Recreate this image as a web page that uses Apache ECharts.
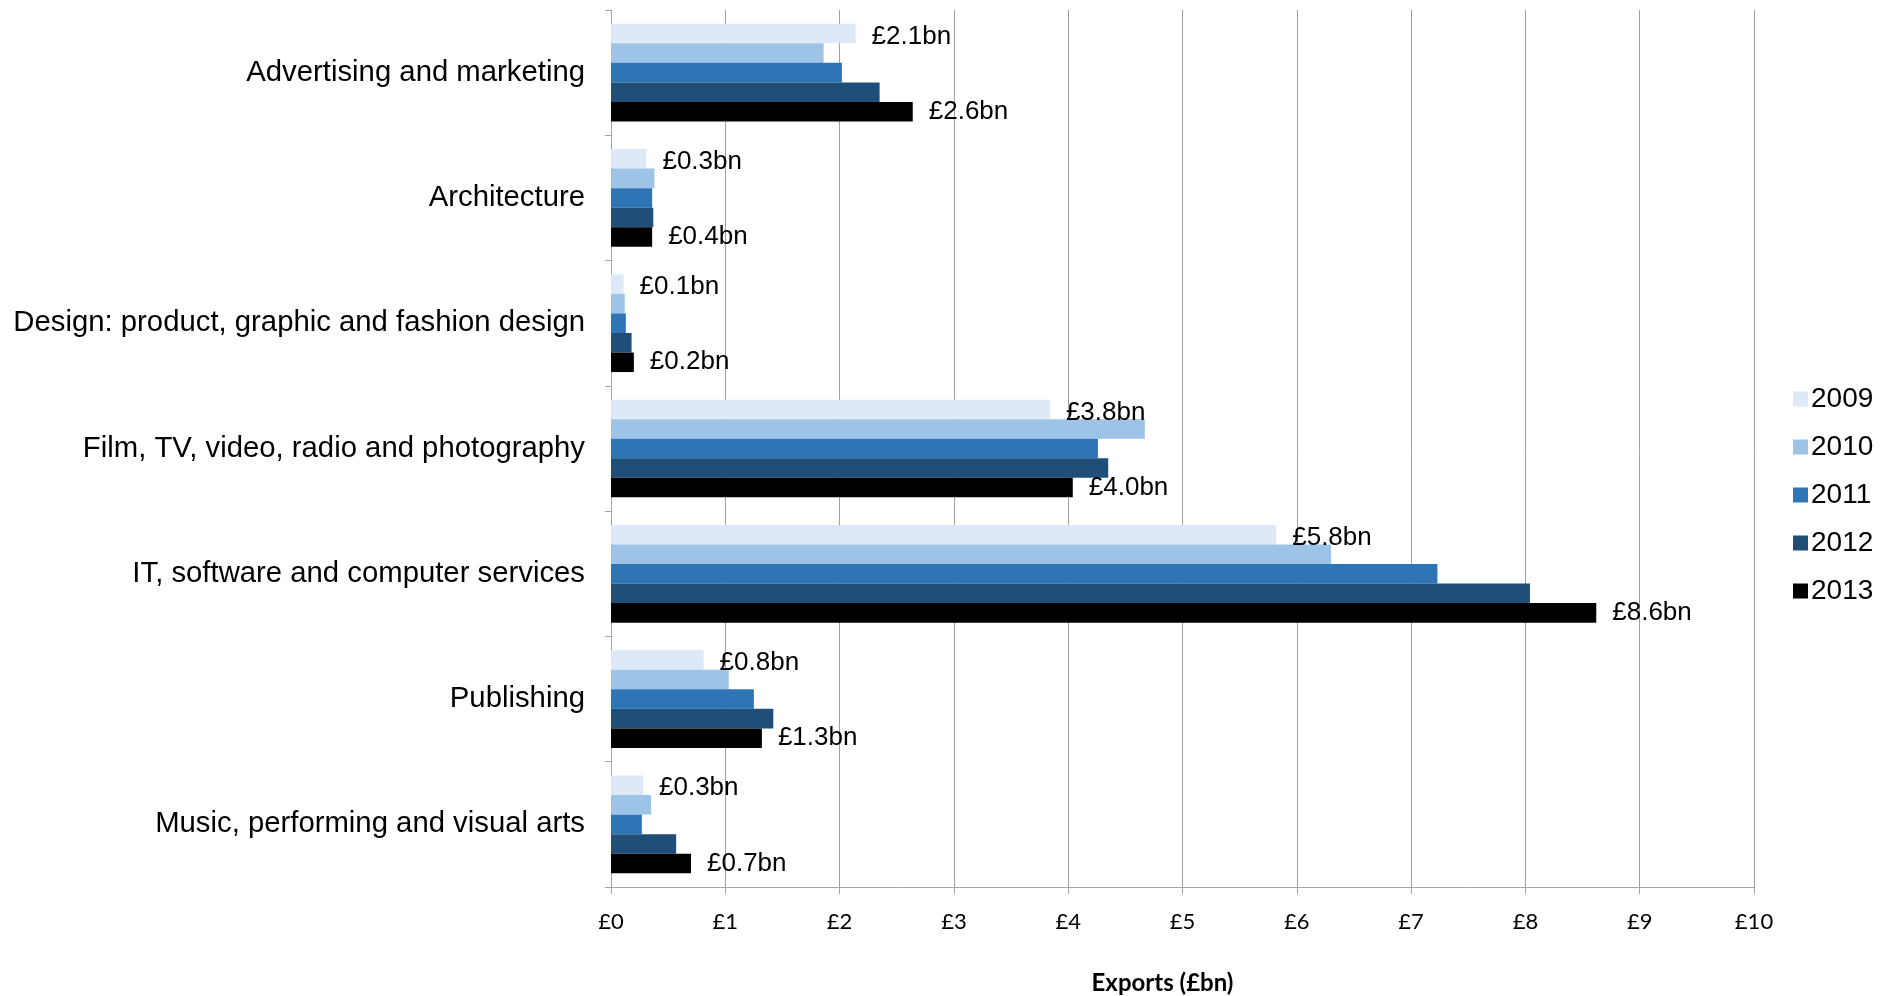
<!DOCTYPE html>
<html>
<head>
<meta charset="utf-8">
<script src="https://cdn.jsdelivr.net/npm/echarts@6/dist/echarts.min.js"></script>
<style>
html,body{margin:0;padding:0;background:#fff;}
#chart{width:1901px;height:996px;}
</style>
</head>
<body>
<div id="chart"></div>
<script>
const categories = [
  "Advertising and marketing",
  "Architecture",
  "Design: product, graphic and fashion design",
  "Film, TV, video, radio and photography",
  "IT, software and computer services",
  "Publishing",
  "Music, performing and visual arts"
];
const years = ["2009", "2010", "2011", "2012", "2013"];
const v2009 = [2.14, 0.31, 0.11, 3.84, 5.82, 0.81, 0.28];
const v2010 = [1.86, 0.38, 0.12, 4.67, 6.30, 1.03, 0.35];
const v2011 = [2.02, 0.36, 0.13, 4.26, 7.23, 1.25, 0.27];
const v2012 = [2.35, 0.37, 0.18, 4.35, 8.04, 1.42, 0.57];
const v2013 = [2.64, 0.36, 0.20, 4.04, 8.62, 1.32, 0.70];
const xTicks = [0,1,2,3,4,5,6,7,8,9,10];
const colors = ["#dde9f6", "#9dc3e6", "#2e75b6", "#1f4e79", "#000000"];

const seriesValues = [v2009, v2010, v2011, v2012, v2013];
const labelled = [true, false, false, false, true];
const labelShift = [3, 0, 0, 0, 0];

const chart = echarts.init(document.getElementById('chart'));
chart.setOption({
  animation: false,
  grid: { left: 611, right: 147, top: 10, bottom: 109, containLabel: false, outerBoundsMode: 'none' },
  legend: {
    orient: 'vertical',
    left: 1788,
    top: 380,
    icon: 'rect',
    itemWidth: 15,
    itemHeight: 15,
    itemGap: 20,
    data: years,
    textStyle: { fontFamily: 'Liberation Sans', fontSize: 28, color: '#000', padding: [0,0,0,-2] }
  },
  xAxis: {
    type: 'value',
    min: 0,
    max: 10,
    interval: 1,
    name: 'Exports (£bn)',
    nameLocation: 'middle',
    nameGap: 84,
    nameTextStyle: { fontFamily: 'Lato', fontWeight: 'bold', fontSize: 24, color: '#000', padding: [0,40,0,0] },
    axisLine: { show: true, lineStyle: { color: '#a6a6a6', width: 1 } },
    axisTick: { show: true, length: 7, lineStyle: { color: '#a6a6a6' } },
    axisLabel: { formatter: v => '£' + xTicks[v], fontFamily: 'Lato', fontSize: 22, color: '#000', margin: 24 },
    splitLine: { show: true, lineStyle: { color: '#a0a0a0', width: 1 } }
  },
  yAxis: {
    type: 'category',
    inverse: true,
    data: categories,
    axisLine: { show: true, lineStyle: { color: '#a6a6a6', width: 1 } },
    axisTick: { show: true, length: 6, lineStyle: { color: '#a6a6a6' } },
    axisLabel: { fontFamily: 'Liberation Sans', fontSize: 29.3, color: '#000', margin: 26 },
    splitLine: { show: false }
  },
  series: years.map((y, i) => ({
    name: y,
    type: 'bar',
    data: seriesValues[i],
    barGap: '0%',
    barCategoryGap: '22%',
    itemStyle: { color: colors[i] },
    label: {
      show: labelled[i],
      position: 'right',
      distance: 16,
      offset: [0, labelShift[i]],
      formatter: p => '£' + p.value.toFixed(1) + 'bn',
      fontFamily: 'Liberation Sans',
      fontSize: 26,
      color: '#000'
    }
  }))
});
</script>
</body>
</html>
